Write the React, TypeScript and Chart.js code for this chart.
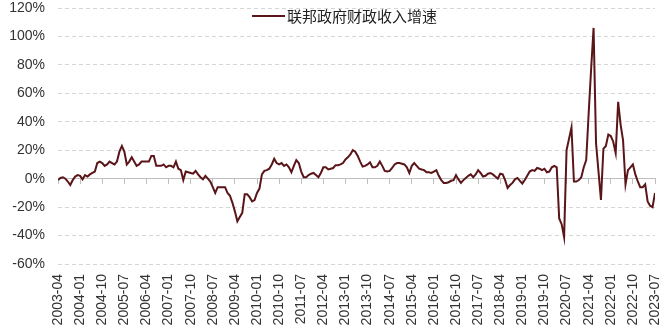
import React, { useEffect, useRef } from 'react';
import { Chart, registerables } from 'chart.js';

Chart.register(...registerables);

const seriesName = '联邦政府财政收入增速';

const xTickLabels = [
  '2003-04', '2004-01', '2004-10', '2005-07', '2006-04', '2007-01', '2007-10',
  '2008-07', '2009-04', '2010-01', '2010-10', '2011-07', '2012-04', '2013-01',
  '2013-10', '2014-07', '2015-04', '2016-01', '2016-10', '2017-07', '2018-04',
  '2019-01', '2019-10', '2020-07', '2021-04', '2022-01', '2022-10', '2023-07',
];

// Monthly YoY growth (%), 2003-04 .. 2023-07
const revenueGrowth = [
  -1, 0.5, 1, 0, -2, -4.5, -1, 1.5, 2.5, 2, -0.5, 2.5,
  1.5, 3, 4, 5, 11, 12, 11, 9, 10, 12, 11, 10,
  12, 19, 23, 19, 10, 12, 15, 12, 9, 10, 12, 12,
  12, 12, 16, 16, 9, 9, 9, 10, 8, 9, 9, 8,
  12, 7, 6, -1, 5, 4.5, 4, 3.5, 5.5, 3, 1, -0.5,
  2, 0, -2, -6, -10, -6, -6, -6, -6, -10, -12, -17,
  -23, -30, -27, -24, -11, -11, -13, -16, -15, -10, -7, 3,
  5.5, 6, 7, 10, 14, 11, 10, 11, 9, 10, 8, 4.5,
  9, 13, 11, 5, 1, 1, 2.5, 3.5, 4, 2.5, 1, 4,
  8, 8, 6.5, 7, 7.5, 9.5, 9.5, 10, 11, 13.5, 15, 17,
  20, 19, 16, 12, 8.5, 9, 10, 11.5, 8, 8, 9, 12,
  9, 5.5, 5, 5.5, 7.5, 10, 11, 11, 10.5, 10, 8, 4,
  9, 11, 9, 7, 6.5, 6, 4.5, 4.5, 4, 5, 6, 2,
  -1, -3, -3, -2.5, -1.5, -1, 2.5, -0.5, -3, -1, 0.5, 2,
  3, 1, 3, 6, 4, 1.5, 2, 3.5, 4, 3, 1.5, 0,
  3.5, 3, -1, -6.5, -4.5, -3, -0.5, 0.5, -1.5, -3.5, -1, 2,
  5, 6, 5.5, 7.5, 7, 6, 7, 4.5, 5, 8, 9, 8,
  -28, -32, -41, 20, 28, 36, -2, -2, -1, 1, 8, 13,
  46, 77, 106, 25, 5, -15, 21, 23, 31, 30, 26, 18,
  54, 38, 27, -4, 6, 8, 10, 3, -2, -6, -6, -4,
  -16, -19, -20, -10,
];

const monthsPerTick = 9;
const yMin = -60;
const yMax = 120;
const yStep = 20;

const lineColor = '#5a1519';
const textColor = '#333333';
const gridColor = '#d6d6d6';
const zeroColor = '#bfbfbf';

export default function App() {
  const canvasRef = useRef<HTMLCanvasElement>(null);

  useEffect(() => {
    document.body.style.margin = '0';
    const canvas = canvasRef.current;
    if (!canvas) return;
    const lastIndex = revenueGrowth.length - 1;
    const tickFont = { family: '"Liberation Sans", Arial, sans-serif', size: 14 };

    const chart = new Chart(canvas, {
      type: 'line',
      data: {
        datasets: [
          {
            label: seriesName,
            data: revenueGrowth.map((v, i) => ({ x: i, y: v })),
            borderColor: lineColor,
            backgroundColor: lineColor,
            borderWidth: 2,
            pointRadius: 0,
            tension: 0,
            fill: false,
          },
        ],
      },
      options: {
        responsive: false,
        animation: false,
        layout: { padding: { top: 8, right: 6, bottom: 0, left: 0 } },
        plugins: {
          legend: { display: false },
          tooltip: { enabled: false },
        },
        scales: {
          x: {
            type: 'linear',
            min: 0,
            max: lastIndex,
            grid: { display: false, drawTicks: false },
            border: { display: false },
            ticks: {
              stepSize: monthsPerTick,
              autoSkip: false,
              maxRotation: 90,
              minRotation: 90,
              padding: 10,
              color: textColor,
              font: tickFont,
              callback: (v: any) => xTickLabels[Math.round(Number(v) / monthsPerTick)] ?? '',
            },
            afterFit: (s: any) => {
              s.height = 67;
              s.paddingLeft = 0;
              s.paddingRight = 0;
            },
          },
          x0: {
            type: 'linear',
            position: { y: 0 },
            min: 0,
            max: lastIndex,
            ticks: { display: false, stepSize: monthsPerTick, autoSkip: false },
            grid: {
              drawOnChartArea: false,
              drawTicks: true,
              tickLength: 5,
              color: zeroColor,
              tickColor: zeroColor,
            },
            border: { display: true, color: zeroColor, width: 1 },
            afterFit: (s: any) => {
              s.paddingLeft = 0;
              s.paddingRight = 0;
            },
          },
          y: {
            min: yMin,
            max: yMax,
            ticks: {
              stepSize: yStep,
              padding: 13,
              color: textColor,
              font: tickFont,
              callback: (v: any) => `${v}%`,
            },
            grid: {
              drawTicks: false,
              color: (ctx: any) => (ctx.tick && ctx.tick.value === 0 ? zeroColor : gridColor),
              lineWidth: 1,
            },
            border: {
              display: false,
              dash: (ctx: any) => (ctx.tick && ctx.tick.value === 0 ? [] : [4, 3]),
            },
            afterFit: (s: any) => {
              s.width = 58;
              s.paddingTop = 0;
              s.paddingBottom = 0;
            },
          },
        },
      },
    } as any);

    return () => chart.destroy();
  }, []);

  return (
    <div style={{ position: 'relative', width: 661, height: 331, background: '#ffffff' }}>
      <canvas ref={canvasRef} width={661} height={331} style={{ display: 'block', width: 661, height: 331 }} />
      <div
        style={{
          position: 'absolute',
          left: 252,
          top: 6,
          height: 20,
          display: 'flex',
          alignItems: 'center',
          whiteSpace: 'nowrap',
          fontFamily: '"Noto Sans CJK SC", sans-serif',
          fontSize: 15,
          lineHeight: '20px',
          color: '#222222',
        }}
      >
        <span style={{ display: 'inline-block', width: 33, height: 2, background: lineColor, marginRight: 2 }} />
        <span>{seriesName}</span>
      </div>
    </div>
  );
}
